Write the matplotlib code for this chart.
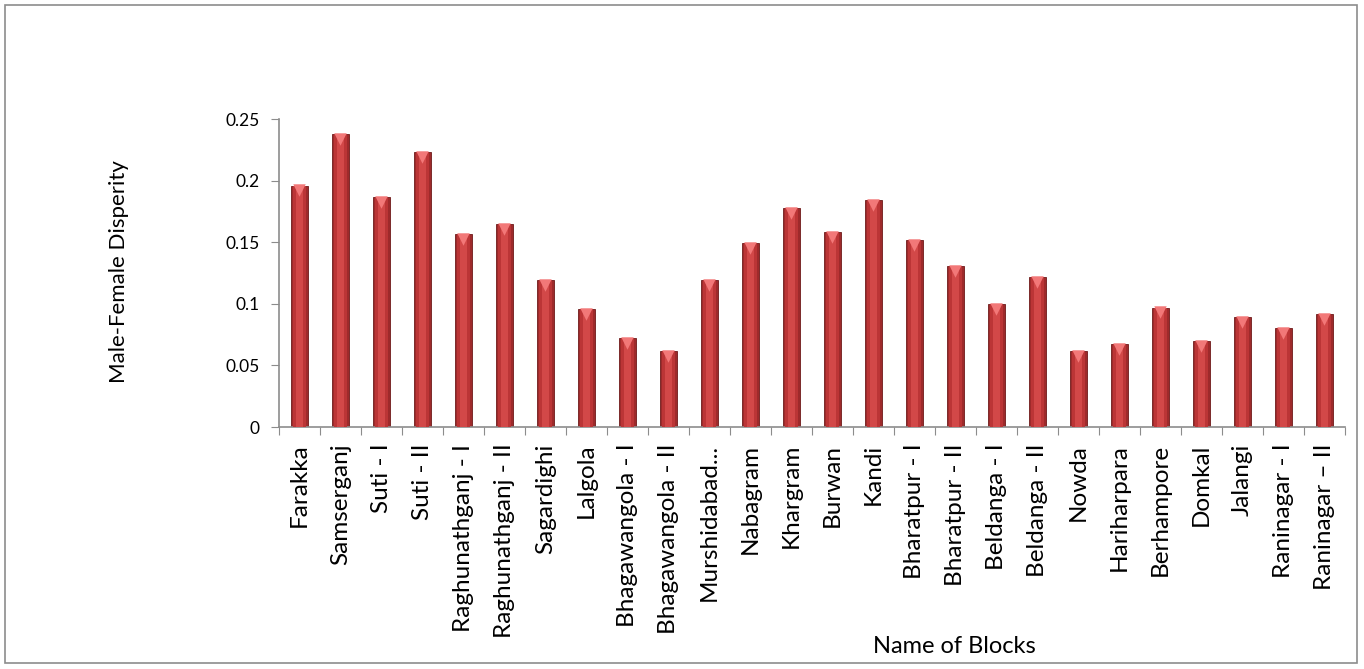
import numpy as np
import matplotlib.pyplot as plt
from matplotlib.patches import Rectangle

blocks = ["Farakka", "Samserganj", "Suti - I", "Suti - II", "Raghunathganj - I",
          "Raghunathganj - II", "Sagardighi", "Lalgola", "Bhagawangola - I",
          "Bhagawangola - II", "Murshidabad...", "Nabagram", "Khargram", "Burwan",
          "Kandi", "Bharatpur - I", "Bharatpur - II", "Beldanga - I", "Beldanga - II",
          "Nowda", "Hariharpara", "Berhampore", "Domkal", "Jalangi", "Raninagar - I",
          "Raninagar \u2013 II"]
disparity = [0.196, 0.238, 0.187, 0.223, 0.157, 0.165, 0.119, 0.0955, 0.072, 0.0616,
             0.119, 0.149, 0.178, 0.158, 0.184, 0.152, 0.131, 0.100, 0.122, 0.0613,
             0.067, 0.097, 0.0695, 0.089, 0.080, 0.092]
yticks = [0, 0.05, 0.1, 0.15, 0.2, 0.25]
ytick_labels = ["0", "0.05", "0.1", "0.15", "0.2", "0.25"]

plt.rcParams["font.family"] = ["Lato", "DejaVu Sans"]

fig = plt.figure(figsize=(13.64, 6.69), dpi=100)
fig.patches.append(Rectangle((0.004, 0.009), 0.991, 0.983, transform=fig.transFigure,
                             fill=False, edgecolor="#8c8c8c", linewidth=1.2))
ax = fig.add_axes([0.2045, 0.3617, 0.7815, 0.4604])

x = np.arange(len(blocks))
w = 0.41
# cylinder-like shading: darker outer bar with lighter core
ax.bar(x, disparity, width=w, color="#9e2a2b", edgecolor="#6e1a1a", linewidth=0.6, zorder=2)
ax.bar(x, disparity, width=w * 0.78, color="#bb3536", linewidth=0, zorder=3)
ax.bar(x, disparity, width=w * 0.45, color="#d24848", linewidth=0, zorder=4)
ax.scatter(x, np.array(disparity) - 0.004, marker="v", s=80, color="#f27878",
           linewidths=0, zorder=5)

ax.set_xlim(-0.5, len(blocks) - 0.5)
ax.set_ylim(0, 0.25)
ax.set_yticks(yticks)
ax.set_yticklabels(ytick_labels, fontsize=12.5)
ax.set_xticks(np.arange(len(blocks) + 1) - 0.5)
ax.set_xticklabels([])
ax.set_xticks(x, minor=True)
ax.set_xticklabels(blocks, minor=True, rotation=90, fontsize=17.5)
ax.tick_params(axis="x", which="major", length=6, color="#8c8c8c", direction="out")
ax.tick_params(axis="x", which="minor", length=0, pad=12)
ax.tick_params(axis="y", length=6, color="#8c8c8c", pad=8)

for s in ["top", "right"]:
    ax.spines[s].set_visible(False)
for s in ["left", "bottom"]:
    ax.spines[s].set_color("#8c8c8c")
    ax.spines[s].set_linewidth(1.2)

fig.text(0.087, 0.5937, "Male-Female Disperity", rotation=90, fontsize=16,
         ha="center", va="center")
fig.text(0.700, 0.033, "Name of Blocks", fontsize=17, ha="center", va="center")

fig.savefig("out.png", dpi=100)
